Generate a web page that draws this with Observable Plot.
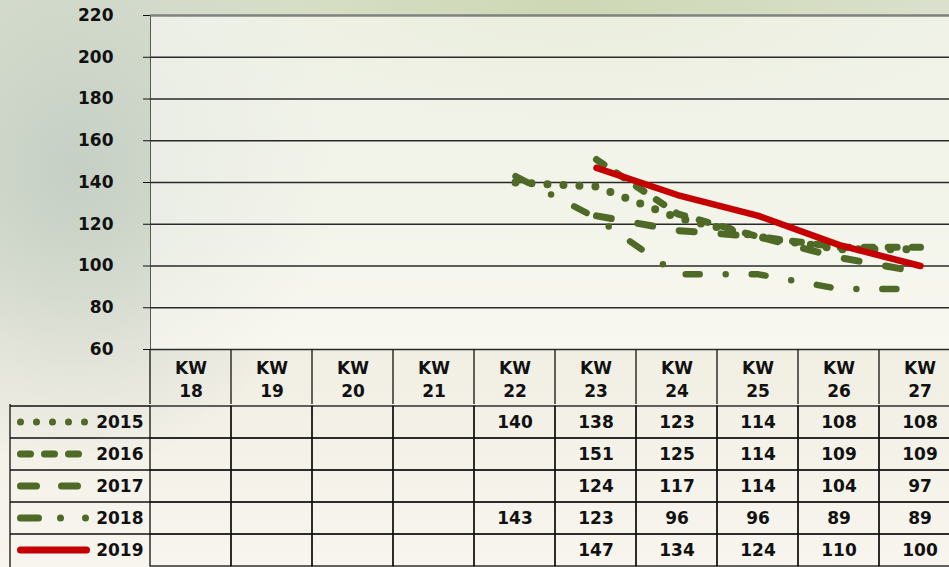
<!DOCTYPE html>
<html><head><meta charset="utf-8">
<script src="https://cdn.jsdelivr.net/npm/d3@7"></script>
<script src="https://cdn.jsdelivr.net/npm/@observablehq/plot@0.6"></script>
<style>
html,body{margin:0;padding:0;width:949px;height:567px;overflow:hidden;}
body{
  font-family: "DejaVu Sans", sans-serif;
  background:
    radial-gradient(ellipse 260px 300px at 8% 30%, rgba(196,206,196,0.95), rgba(196,206,196,0) 100%),
    radial-gradient(ellipse 420px 120px at 60% 2%, rgba(205,215,178,0.95), rgba(205,215,178,0) 100%),
    linear-gradient(to bottom, #dbe1cf 0%, #e2e6d4 38%, #f1eee3 60%, #f7f5ee 100%);
}
#wrap{position:relative;width:949px;height:567px;overflow:hidden;}
#wrap svg{display:block;overflow:visible;max-width:none !important;}
</style></head><body><div id="wrap"></div>
<script>
// ---- data ----
const weeks = ["18","19","20","21","22","23","24","25","26","27"];
const years = ["2015","2016","2017","2018","2019"];
const v2015 = [null,null,null,null,140,138,123,114,108,108];
const v2016 = [null,null,null,null,null,151,125,114,109,109];
const v2017 = [null,null,null,null,null,124,117,114,104,97];
const v2018 = [null,null,null,null,143,123,96,96,89,89];
const v2019 = [null,null,null,null,null,147,134,124,110,100];
const yTicks = [60,80,100,120,140,160,180,200,220];

// ---- styles ----
const green = "#4f6a26", red = "#c40000";
const FONT = "'DejaVu Sans', sans-serif";
const lineStyle = {
  "2015": {stroke: green, strokeWidth: 8, strokeDasharray: "0 16", strokeLinecap: "round"},
  "2016": {stroke: green, strokeWidth: 7, strokeDasharray: "9 15", strokeLinecap: "round"},
  "2017": {stroke: green, strokeWidth: 7, strokeDasharray: "15 27", strokeLinecap: "round"},
  "2018": {stroke: green, strokeWidth: 6.5, strokeDasharray: "14 26 0 26", strokeLinecap: "round"},
  "2019": {stroke: red, strokeWidth: 6.5, strokeLinecap: "round"}
};
const legendDash = {"2015": "0 16", "2016": "10 14", "2017": "16 25", "2018": "18 22 0 25 0 40", "2019": null};
const series = {"2015": v2015, "2016": v2016, "2017": v2017, "2018": v2018, "2019": v2019};
const cells = years.flatMap(y => weeks.map((w, i) => ({year: y, week: w, value: series[y][i]})));

const W = 960;
// ---- chart ----
const chart = Plot.plot({
  width: W, height: 350, marginTop: 15, marginBottom: 1, marginLeft: 150, marginRight: 0,
  style: {background: "transparent", fontSize: "17px", fontWeight: "bold", color: "#111", fontFamily: FONT},
  x: {type: "point", domain: weeks, padding: 0.5, axis: null},
  y: {domain: [60, 220], ticks: yTicks, tickSize: 7, tickPadding: 30, label: null, line: true},
  marks: [
    Plot.frame({fill: "#fdfdf9", fillOpacity: 0.6, stroke: null}),
    Plot.ruleY(yTicks, {stroke: "#2a2a2a", strokeWidth: 1.3}),
    Plot.ruleY([220], {stroke: "#808080", strokeWidth: 2.2}),
    ...years.map(yr => Plot.line(cells.filter(d => d.year === yr), {x: "week", y: "value", ...lineStyle[yr]}))
  ]
});
chart.querySelectorAll('[aria-label="y-axis line"] path, [aria-label="y-axis line"] line').forEach(e => e.setAttribute("stroke-width", 2));

// ---- table ----
const table = Plot.plot({
  width: W, height: 217, marginTop: 54, marginLeft: 150, marginRight: 0, marginBottom: 0,
  style: {background: "transparent", fontSize: "17px", fontWeight: "bold", color: "#111", fontFamily: FONT},
  x: {type: "band", domain: weeks, padding: 0, label: null},
  y: {type: "band", domain: years, padding: 0, axis: null},
  marks: [
    Plot.axisX({anchor: "top", tickSize: 0, tickPadding: 8, tickFormat: w => "KW\n" + w, fontSize: 17, fontWeight: "bold", lineHeight: 1.35, label: null, fill: "#111"}),
    Plot.cell(cells, {x: "week", y: "year", fill: "none", stroke: "#111", strokeWidth: 1.3, inset: 0}),
    Plot.text(cells.filter(d => d.value != null), {x: "week", y: "year", text: d => String(d.value), fontSize: 17, fontWeight: "bold", fill: "#111"}),
    Plot.text(years, {y: d => d, frameAnchor: "left", dx: -7, textAnchor: "end", text: d => d, fontSize: 17, fontWeight: "bold", fill: "#111"}),
    (index, scales, values, dims) => {
      const g = d3.create("svg:g");
      const x = scales.x, y = scales.y;
      const bh = y.bandwidth();
      const hb = dims.marginTop;
      weeks.forEach(w => {
        g.append("line").attr("x1", x(w)).attr("x2", x(w)).attr("y1", 0).attr("y2", hb)
          .attr("stroke", "#111").attr("stroke-width", 1.3);
      });
      const lx = 10;
      years.forEach(yr => {
        g.append("line").attr("x1", lx).attr("x2", dims.marginLeft).attr("y1", y(yr)).attr("y2", y(yr))
          .attr("stroke", "#111").attr("stroke-width", 1.3);
      });
      g.append("line").attr("x1", lx).attr("x2", lx).attr("y1", hb).attr("y2", dims.height)
        .attr("stroke", "#111").attr("stroke-width", 1.3);
      years.forEach(yr => {
        const s = lineStyle[yr];
        const cy = y(yr) + bh / 2;
        g.append("line").attr("x1", 20.5).attr("x2", 86.5).attr("y1", cy).attr("y2", cy)
          .attr("stroke", s.stroke).attr("stroke-width", yr === "2015" ? 7 : 7)
          .attr("stroke-dasharray", legendDash[yr])
          .attr("stroke-linecap", "round");
      });
      return g.node();
    }
  ]
});

const wrap = document.getElementById("wrap");
wrap.appendChild(chart);
wrap.appendChild(table);
</script>
</body></html>
